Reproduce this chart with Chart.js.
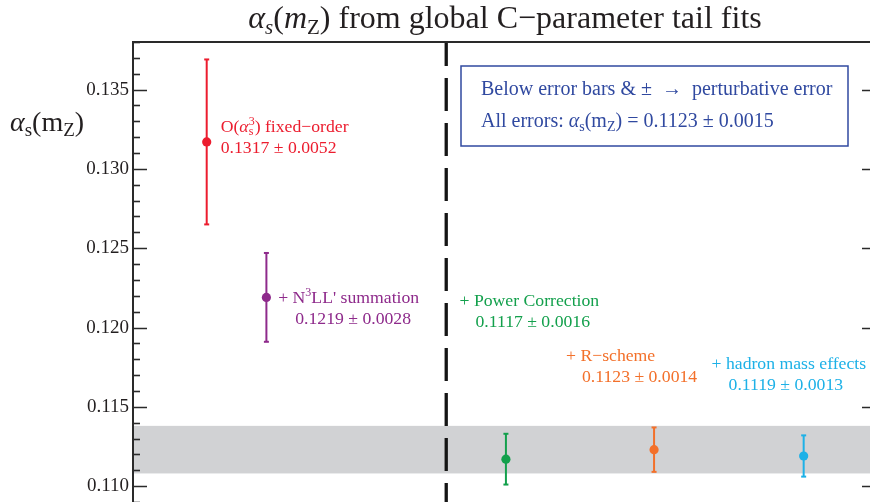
<!DOCTYPE html>
<html>
<head>
<meta charset="utf-8">
<script src="https://cdn.jsdelivr.net/npm/chart.js@4.4.0/dist/chart.umd.min.js"></script>
<style>
  html, body { margin: 0; padding: 0; background: #fff; }
  #wrap { width: 870px; height: 502px; position: relative; }
</style>
</head>
<body>
<div id="wrap"><canvas id="fitChart"></canvas></div>
<script>
// fits, left to right
const fitNames = ['O(as3) fixed-order', "+ N3LL' summation", '+ Power Correction', '+ R-scheme', '+ hadron mass effects'];
const fitPositions = [1.0, 1.81, 5.06, 7.07, 9.1];
const alphaValues = [0.1317, 0.1219, 0.1117, 0.1123, 0.1119];
const pertErrors = [0.0052, 0.0028, 0.0016, 0.0014, 0.0013];
const fitColors = ['#ec1c2e', '#8e2a8b', '#13a04c', '#f3702a', '#1db1e7'];

// combined result (grey band)
const globalAlpha = 0.1123;
const globalError = 0.0015;

// where the dashed divider sits on the x scale
const dividerAt = 4.25;

// y axis
const yMin = 0.109, yMax = 0.138, yStep = 0.001;
const yLabelled = [0.110, 0.115, 0.120, 0.125, 0.130, 0.135];

const SERIF = '"Liberation Serif", "Times New Roman", "DejaVu Serif", serif';
const font = (size, style) => (style || '') + ' ' + size + 'px ' + SERIF;

// text made of pieces (italic, sub/superscripts)
function richWidth(ctx, parts) {
  let w = 0;
  for (const p of parts) {
    if (p.stack) {
      ctx.font = font(p.size);
      w += Math.max(ctx.measureText(p.sup).width, ctx.measureText(p.sub).width);
    } else {
      ctx.font = font(p.size, p.style);
      w += ctx.measureText(p.t).width;
    }
  }
  return w;
}
function drawRich(ctx, parts, x, y, color) {
  ctx.fillStyle = color;
  ctx.textAlign = 'left';
  ctx.textBaseline = 'alphabetic';
  let cx = x;
  for (const p of parts) {
    if (p.stack) {
      ctx.font = font(p.size);
      ctx.fillText(p.sup, cx, y - 7);
      ctx.fillText(p.sub, cx, y + 3);
      cx += Math.max(ctx.measureText(p.sup).width, ctx.measureText(p.sub).width);
    } else {
      ctx.font = font(p.size, p.style);
      ctx.fillText(p.t, cx, y + (p.dy || 0));
      cx += ctx.measureText(p.t).width;
    }
  }
}

const A = 17.7;   // annotation size
const SM = 12;    // script size
const B = 20;     // info box size
const valueText = i => alphaValues[i].toFixed(4) + ' \u00b1 ' + pertErrors[i].toFixed(4);

// label anchors in data units (x, y of first line baseline), second line indent in px
const fitLabels = [
  { x: 1.19, y: 0.13231, indent: 0,
    parts: [{ t: 'O(', size: A }, { t: '\u03b1', size: A, style: 'italic' },
            { stack: true, sup: '3', sub: 's', size: SM }, { t: ') fixed\u2212order', size: A }] },
  { x: 1.97, y: 0.12153, indent: 17,
    parts: [{ t: '+ N', size: A }, { t: '3', size: SM, dy: -7 }, { t: "LL' summation", size: A }] },
  { x: 4.43, y: 0.12136, indent: 16,
    parts: [{ t: '+ Power Correction', size: A }] },
  { x: 5.875, y: 0.11789, indent: 16,
    parts: [{ t: '+ R\u2212scheme', size: A }] },
  { x: 7.85, y: 0.11738, indent: 17,
    parts: [{ t: '+ hadron mass effects', size: A }] }
];

const datasets = [];
fitNames.forEach((name, i) => {
  datasets.push({
    label: name + ' error',
    showLine: true,
    data: [{ x: fitPositions[i], y: alphaValues[i] - pertErrors[i] },
           { x: fitPositions[i], y: alphaValues[i] + pertErrors[i] }],
    borderColor: fitColors[i],
    borderWidth: 2,
    pointStyle: 'line',
    pointRadius: 2.5,
    pointBorderWidth: 2,
    pointBorderColor: fitColors[i],
    order: 2
  });
  datasets.push({
    label: name,
    data: [{ x: fitPositions[i], y: alphaValues[i] }],
    backgroundColor: fitColors[i],
    borderWidth: 0,
    pointRadius: 4.6,
    order: 1
  });
});

const decor = {
  id: 'decor',
  beforeDatasetsDraw(chart) {
    const { ctx, chartArea: a, scales: { x, y } } = chart;
    ctx.save();
    // combined band
    const top = y.getPixelForValue(globalAlpha + globalError);
    const bot = y.getPixelForValue(globalAlpha - globalError);
    ctx.fillStyle = '#d1d2d4';
    ctx.fillRect(a.left, top, a.right - a.left, bot - top);
    // dashed divider
    const dx = x.getPixelForValue(dividerAt);
    ctx.strokeStyle = '#151515';
    ctx.lineWidth = 3.3;
    ctx.setLineDash([33, 12]);
    ctx.lineDashOffset = 9;
    ctx.beginPath();
    ctx.moveTo(dx, a.top);
    ctx.lineTo(dx, a.bottom);
    ctx.stroke();
    ctx.restore();
  },
  afterDraw(chart) {
    const { ctx, chartArea: a, scales: { x, y } } = chart;
    ctx.save();
    // frame
    ctx.strokeStyle = '#2a2a2a';
    ctx.lineWidth = 2;
    ctx.beginPath();
    ctx.moveTo(a.left, a.bottom);
    ctx.lineTo(a.left, a.top);
    ctx.lineTo(a.right, a.top);
    ctx.stroke();
    // inward ticks
    ctx.lineWidth = 1.6;
    y.ticks.forEach(t => {
      const py = Math.round(y.getPixelForValue(t.value)) + 0.5;
      const major = t.label !== '';
      ctx.beginPath();
      ctx.moveTo(a.left, py);
      ctx.lineTo(a.left + (major ? 14 : 7), py);
      if (major) {
        ctx.moveTo(a.right - 8, py);
        ctx.lineTo(a.right, py);
      }
      ctx.stroke();
    });

    // title
    const titleParts = [
      { t: '\u03b1', size: 32, style: 'italic' }, { t: 's', size: 21, style: 'italic', dy: 6 },
      { t: '(', size: 32 }, { t: 'm', size: 32, style: 'italic' }, { t: 'Z', size: 21, dy: 6 },
      { t: ') from global C\u2212parameter tail fits', size: 32 }
    ];
    const tw = richWidth(ctx, titleParts);
    drawRich(ctx, titleParts, 505 - tw / 2, 28, '#231f20');

    // y axis label
    drawRich(ctx, [
      { t: '\u03b1', size: 28, style: 'italic' }, { t: 's', size: 19, dy: 5 },
      { t: '(m', size: 28 }, { t: 'Z', size: 19, dy: 5 }, { t: ')', size: 28 }
    ], 10, 131, '#231f20');

    // info box
    const bx = a.left + 328, by = a.top + 24, bw = 387, bh = 80;
    ctx.strokeStyle = '#3049a0';
    ctx.lineWidth = 1.5;
    ctx.strokeRect(bx, by, bw, bh);
    drawRich(ctx, [{ t: 'Below error bars & \u00b1  \u2192  perturbative error', size: B }],
      bx + 20, by + 29, '#3049a0');
    drawRich(ctx, [
      { t: 'All errors: ', size: B }, { t: '\u03b1', size: B, style: 'italic' }, { t: 's', size: 14, dy: 4 },
      { t: '(m', size: B }, { t: 'Z', size: 14, dy: 4 },
      { t: ') = ' + globalAlpha.toFixed(4) + ' \u00b1 ' + globalError.toFixed(4), size: B }
    ], bx + 20, by + 61, '#3049a0');

    // fit labels
    fitLabels.forEach((l, i) => {
      const lx = x.getPixelForValue(l.x);
      const ly = y.getPixelForValue(l.y);
      drawRich(ctx, l.parts, lx, ly, fitColors[i]);
      drawRich(ctx, [{ t: valueText(i), size: A }], lx + l.indent, ly + 21, fitColors[i]);
    });
    ctx.restore();
  }
};

const noPad = s => { s.paddingTop = 0; s.paddingBottom = 0; s.paddingLeft = 0; s.paddingRight = 0; };

new Chart(document.getElementById('fitChart'), {
  type: 'scatter',
  data: { datasets },
  options: {
    responsive: true,
    maintainAspectRatio: false,
    animation: false,
    layout: { autoPadding: false, padding: { top: 42, right: 0, bottom: 0, left: 0 } },
    plugins: { legend: { display: false }, tooltip: { enabled: false }, title: { display: false } },
    scales: {
      x: { type: 'linear', min: 0, max: 10, display: false, ticks: { display: false }, afterFit: noPad },
      y: {
        type: 'linear', min: yMin, max: yMax,
        afterFit: s => { s.width = 133; noPad(s); },
        grid: { display: false, drawTicks: false },
        border: { display: false },
        ticks: {
          stepSize: yStep,
          autoSkip: false,
          padding: 4,
          color: '#231f20',
          font: { family: SERIF, size: 19 },
          callback: v => {
            const hit = yLabelled.find(l => Math.abs(l - v) < 1e-7);
            return hit !== undefined ? hit.toFixed(3) : '';
          }
        }
      }
    }
  },
  plugins: [decor]
});
</script>
</body>
</html>
